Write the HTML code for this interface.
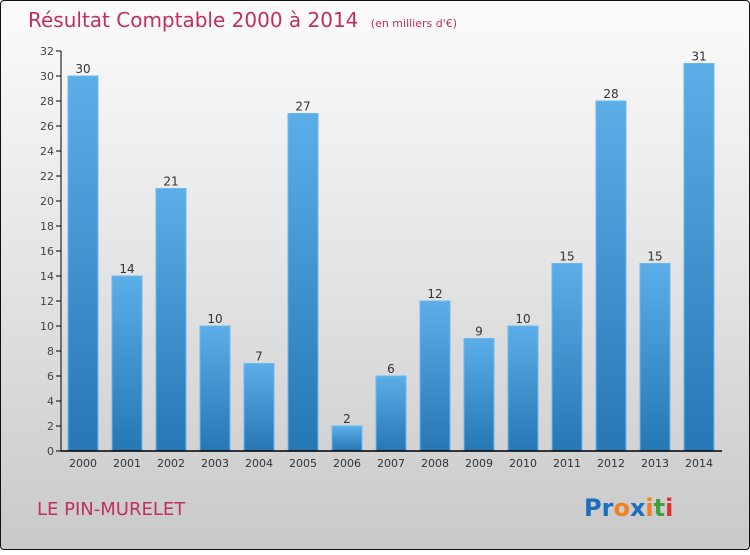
<!DOCTYPE html>
<html><head><meta charset="utf-8">
<style>
html,body{margin:0;padding:0}
body{width:750px;height:550px;overflow:hidden;font-family:"DejaVu Sans","Liberation Sans",sans-serif}
#frame{position:absolute;left:0;top:0;width:748px;height:548px;border:1px solid #111;border-radius:4px;background:linear-gradient(#fbfbfb,#e6e6e6 45%,#c9c9c9)}
</style></head><body>
<div id="frame">
<svg width="750" height="550">
<defs><linearGradient id="bg" x1="0" y1="0" x2="0" y2="1"><stop offset="0" stop-color="#5baee8"/><stop offset="1" stop-color="#2677b4"/></linearGradient></defs>
<text x="27" y="26" font-size="20" fill="#c0305c">Résultat Comptable 2000 à 2014 <tspan font-size="11" dx="6">(en milliers d'€)</tspan></text>
<g id="plot"></g>
<text x="36" y="514" font-size="18" fill="#c0305c">LE PIN-MURELET</text>
<text x="583" y="515" font-size="24" font-weight="bold"><tspan fill="#1a6fc0">Pr</tspan><tspan fill="#f08020">o</tspan><tspan fill="#1a6fc0">x</tspan><tspan fill="#f08020">i</tspan><tspan fill="#40a040">t</tspan><tspan fill="#e03030">i</tspan></text>
</svg></div>
<script>
const categories=["2000","2001","2002","2003","2004","2005","2006","2007","2008","2009","2010","2011","2012","2013","2014"];
const values=[30,14,21,10,7,27,2,6,12,9,10,15,28,15,31];
const yTicks=[0,2,4,6,8,10,12,14,16,18,20,22,24,26,28,30,32];
const NS="http://www.w3.org/2000/svg",g=document.getElementById("plot");
const y=v=>450-v*12.5, x=i=>82+i*44;
function el(t,a,txt){const e=document.createElementNS(NS,t);for(const k in a)e.setAttribute(k,a[k]);if(txt!==undefined)e.textContent=txt;g.appendChild(e);return e;}
yTicks.forEach(t=>{
 const l=el("line",{x1:55,x2:60,y1:y(t),y2:y(t),stroke:"#000"});
 
 
 const s=el("text",{x:53,y:y(t)+4,"text-anchor":"end","font-size":11,fill:"#444"},t);
 
 
});
values.forEach((v,i)=>{
 const r=el("rect",{x:x(i)-15,y:y(v),width:30,height:450-y(v),fill:"url(#bg)",stroke:"#6cb8ee","stroke-width":1});
 
 
 const t=el("text",{x:x(i),y:y(v)-3,"text-anchor":"middle","font-size":12,fill:"#333"},v);
 
 
 const c=el("text",{x:x(i),y:466,"text-anchor":"middle","font-size":11,fill:"#333"},categories[i]);
 
 
});
const ya=el("line",{x1:60,x2:60,y1:y(32),y2:450,stroke:"#000"});


const xa=el("line",{x1:60,x2:721,y1:450,y2:450,stroke:"#000","stroke-width":1.5});


</script>
</body></html>
